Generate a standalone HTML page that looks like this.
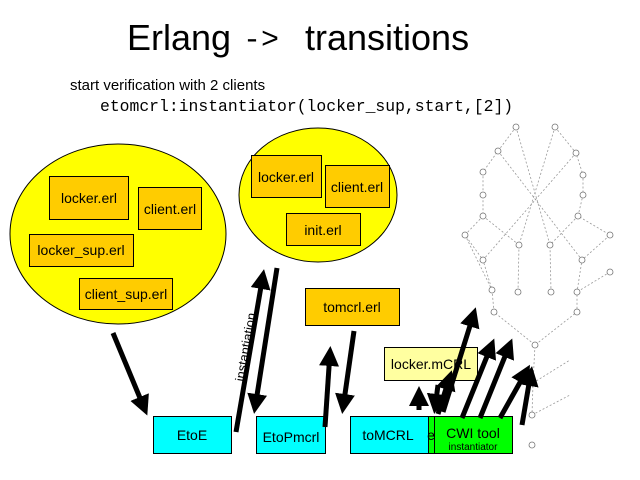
<!DOCTYPE html>
<html><head><meta charset="utf-8"><style>
html,body{margin:0;padding:0;background:#fff;}
svg{display:block;}
</style></head><body>
<svg width="640" height="480" viewBox="0 0 640 480" xmlns="http://www.w3.org/2000/svg" font-family="Liberation Sans, sans-serif">
<defs>
<marker id="ah" viewBox="0 0 10 10" refX="7" refY="5" markerWidth="4" markerHeight="4" orient="auto" markerUnits="strokeWidth">
<path d="M0,0 L10,5 L0,10 z" fill="#000"/></marker>
</defs>
<text x="127" y="50" font-size="36">Erlang</text>
<text x="243" y="48" font-size="30" style="font-family:'Liberation Mono',monospace">-&gt;</text>
<text x="305" y="50" font-size="36">transitions</text>
<text x="70" y="90" font-size="15">start verification with 2 clients</text>
<text x="100" y="111" font-size="16.4" style="font-family:'Liberation Mono',monospace">etomcrl:instantiator(locker_sup,start,[2])</text>

<!-- graph -->
<g stroke="#999" stroke-width="0.8" stroke-dasharray="2,2" fill="none">
<path d="M516,127 L498,151 L483,172 L483,195 L483,216 L465,235 L483,260 L492,290 L494,312 L535,345 L533,383 L532,415"/>
<path d="M555,127 L576,153 L583,175 L583,195 L578,216 L610,235 L582,260 L577,292 L577,312 L535,345"/>
<path d="M516,127 L550,245 L551,292"/><path d="M555,127 L519,245 L518,292"/>
<path d="M498,151 L582,260"/><path d="M576,153 L483,260"/>
<path d="M483,216 L519,245"/><path d="M578,216 L550,245"/>
<path d="M610,272 L577,292"/><path d="M465,235 L492,290"/>
<path d="M533,383 L570,360"/><path d="M532,415 L570,395"/>
</g>
<g stroke="#777" stroke-width="0.8" fill="#fff">
<circle cx="516" cy="127" r="3"/><circle cx="555" cy="127" r="3"/><circle cx="498" cy="151" r="3"/><circle cx="576" cy="153" r="3"/>
<circle cx="483" cy="172" r="3"/><circle cx="583" cy="175" r="3"/><circle cx="483" cy="195" r="3"/><circle cx="583" cy="195" r="3"/>
<circle cx="483" cy="216" r="3"/><circle cx="578" cy="216" r="3"/><circle cx="465" cy="235" r="3"/><circle cx="610" cy="235" r="3"/>
<circle cx="519" cy="245" r="3"/><circle cx="550" cy="245" r="3"/><circle cx="483" cy="260" r="3"/><circle cx="582" cy="260" r="3"/>
<circle cx="610" cy="272" r="3"/><circle cx="492" cy="290" r="3"/><circle cx="518" cy="292" r="3"/><circle cx="551" cy="292" r="3"/>
<circle cx="577" cy="292" r="3"/><circle cx="494" cy="312" r="3"/><circle cx="577" cy="312" r="3"/><circle cx="535" cy="345" r="3"/>
<circle cx="533" cy="383" r="3"/><circle cx="532" cy="415" r="3"/><circle cx="532" cy="445" r="3"/>
</g>

<ellipse cx="118" cy="234" rx="108" ry="90" fill="#ffff00" stroke="#000"/>
<ellipse cx="318" cy="195" rx="79" ry="67" fill="#ffff00" stroke="#000"/>
<g fill="#ffcc00" stroke="#000">
<rect x="49.5" y="176.5" width="79" height="43"/><rect x="138.5" y="187.5" width="63" height="42"/>
<rect x="29.5" y="234.5" width="104" height="32"/><rect x="79.5" y="278.5" width="93" height="31"/>
<rect x="251.5" y="155.5" width="70" height="42"/><rect x="325.5" y="165.5" width="64" height="42"/>
<rect x="286.5" y="213.5" width="74" height="32"/><rect x="305.5" y="288.5" width="94" height="37"/>
</g>
<rect x="384.5" y="347.5" width="93" height="33" fill="#ffffa0" stroke="#000"/>
<g font-size="14" text-anchor="middle">
<text x="89" y="203">locker.erl</text><text x="170" y="214">client.erl</text>
<text x="81" y="255">locker_sup.erl</text><text x="126" y="299">client_sup.erl</text>
<text x="286" y="182">locker.erl</text><text x="357" y="192">client.erl</text>
<text x="323" y="235">init.erl</text><text x="352" y="312">tomcrl.erl</text>
<text x="431" y="369">locker.mCRL</text>
</g>
<g stroke="#000">
<rect x="153.5" y="416.5" width="78" height="37" fill="#00ffff"/>
<rect x="256.5" y="416.5" width="69" height="37" fill="#00ffff"/>
<rect x="350.5" y="416.5" width="78" height="37" fill="#00ffff"/>
<rect x="428.5" y="416.5" width="6" height="37" fill="#00ff00"/>
<rect x="434.5" y="416.5" width="78" height="37" fill="#00ff00"/>
</g>
<g font-size="14" text-anchor="middle">
<text x="192" y="440">EtoE</text><text x="291" y="442">EtoPmcrl</text><text x="388" y="440">toMCRL</text>
<text x="431" y="440">e</text>
<text x="473" y="438">CWI tool</text>
<text x="473" y="450" font-size="10">instantiator</text>
</g>
<text x="0" y="0" font-size="13" transform="translate(244,382) rotate(-80)">instantiation</text>

<g stroke="#000" stroke-width="5" marker-end="url(#ah)" fill="none">
<line x1="113" y1="333" x2="145" y2="410"/>
<line x1="236" y1="432" x2="263" y2="275"/>
<line x1="277" y1="268" x2="255" y2="408"/>
<line x1="325" y1="427" x2="330" y2="352"/>
<line x1="354" y1="331" x2="343" y2="408"/>
<line x1="419" y1="410" x2="419" y2="392"/>
<line x1="438" y1="385" x2="435" y2="408"/>
<line x1="443" y1="412" x2="474" y2="313"/>
<line x1="438" y1="414" x2="450" y2="376"/>
<line x1="462" y1="418" x2="492" y2="344"/>
<line x1="480" y1="418" x2="510" y2="344"/>
<line x1="500" y1="418" x2="527" y2="370"/>
<line x1="522" y1="425" x2="531" y2="372"/>
</g>
</svg>
</body></html>
